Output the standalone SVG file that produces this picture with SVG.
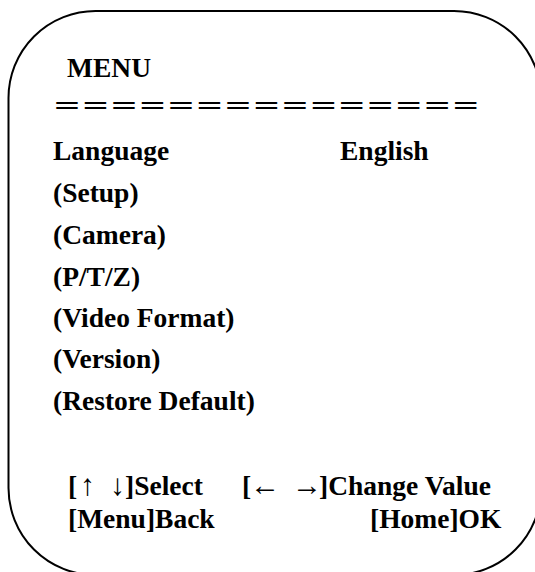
<svg xmlns="http://www.w3.org/2000/svg" width="535" height="572" viewBox="0 0 535 572">
<style>
.t{font-family:"Liberation Serif","Times New Roman",serif;font-weight:bold;font-size:27.5px;fill:#000}
.a{font-family:"Liberation Serif","DejaVu Serif",serif;font-weight:normal;font-size:30px;fill:#000}
.eq{font-family:"Liberation Serif","Times New Roman",serif;font-weight:bold;font-size:27px;fill:#000}
</style>
<rect width="535" height="572" fill="#fff"/>
<g id="frame">
<rect x="8.5" y="11" width="532.5" height="564" rx="87" ry="87" fill="none" stroke="#000" stroke-width="2"/>
</g>
<g id="title">
<text class="t" x="67" y="77">MENU</text>
<text class="eq" transform="translate(54,115) scale(1.7,1)" x="0" y="0" textLength="250" lengthAdjust="spacing">===============</text>
</g>
<g id="items">
<text class="t" x="53" y="160">Language</text>
<text class="t" x="340" y="160">English</text>
<text class="t" x="53" y="202">(Setup)</text>
<text class="t" x="53" y="244">(Camera)</text>
<text class="t" x="53" y="286">(P/T/Z)</text>
<text class="t" x="53" y="327">(Video Format)</text>
<text class="t" x="53" y="368">(Version)</text>
<text class="t" x="53" y="410">(Restore Default)</text>
</g>
<g id="help">
<text class="t" x="68" y="495">[</text>
<text class="a" x="80" y="495">↑</text>
<text class="a" x="110" y="495">↓</text>
<text class="t" x="125" y="495">]Select</text>
<text class="t" x="242" y="495">[</text>
<text class="a" x="250" y="495">←</text>
<text class="a" x="292" y="495">→</text>
<text class="t" x="319" y="495">]Change Value</text>
<text class="t" x="68" y="528">[Menu]Back</text>
<text class="t" x="370" y="528">[Home]OK</text>
</g>
</svg>
